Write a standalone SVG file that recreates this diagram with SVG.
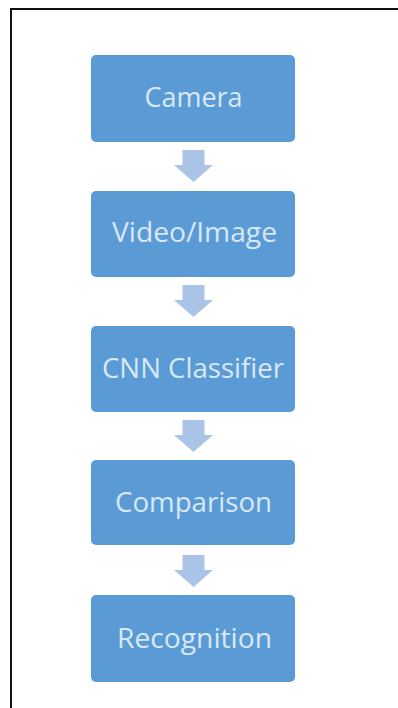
<svg xmlns="http://www.w3.org/2000/svg" width="398" height="708" viewBox="0 0 398 708">
  <defs>
    <style>
      .box { fill: #5B9BD5; }
      .lbl { font-family: "Open Sans", "Lato", "Liberation Sans", sans-serif; font-size: 27px; fill: #D9E8F8; text-anchor: middle; }
      .arrow { fill: #A9C4E6; }
      .frame { stroke: #111111; stroke-width: 2; fill: none; }
    </style>
    <path id="down" d="M -11 0 H 11 V 15 H 19.5 L 0 32 L -19.5 15 H -11 Z"/>
  </defs>
  <rect width="398" height="708" fill="#FFFFFF"/>
  <!-- outer frame: only top and left edges fall inside the canvas -->
  <path class="frame" d="M 11 708 V 9 H 398"/>

  <g id="connectors">
    <use href="#down" class="arrow" x="193.5" y="150"/>
    <use href="#down" class="arrow" x="193.5" y="285"/>
    <use href="#down" class="arrow" x="193.5" y="420"/>
    <use href="#down" class="arrow" x="193.5" y="555"/>
  </g>

  <g id="camera">
    <rect class="box" x="91" y="55" width="204" height="87" rx="5"/>
    <text class="lbl" x="193.5" y="107" textLength="98" lengthAdjust="spacingAndGlyphs">Camera</text>
  </g>
  <g id="video-image">
    <rect class="box" x="91" y="191" width="204" height="86" rx="5"/>
    <text class="lbl" x="194.5" y="242" textLength="165" lengthAdjust="spacingAndGlyphs">Video/Image</text>
  </g>
  <g id="cnn-classifier">
    <rect class="box" x="91" y="326" width="204" height="86" rx="5"/>
    <text class="lbl" x="193" y="378" textLength="182" lengthAdjust="spacingAndGlyphs">CNN Classifier</text>
  </g>
  <g id="comparison">
    <rect class="box" x="91" y="460" width="204" height="85" rx="5"/>
    <text class="lbl" x="193.5" y="512" textLength="157" lengthAdjust="spacingAndGlyphs">Comparison</text>
  </g>
  <g id="recognition">
    <rect class="box" x="91" y="595" width="204" height="87" rx="5"/>
    <text class="lbl" x="194.5" y="648" textLength="155" lengthAdjust="spacingAndGlyphs">Recognition</text>
  </g>
</svg>
